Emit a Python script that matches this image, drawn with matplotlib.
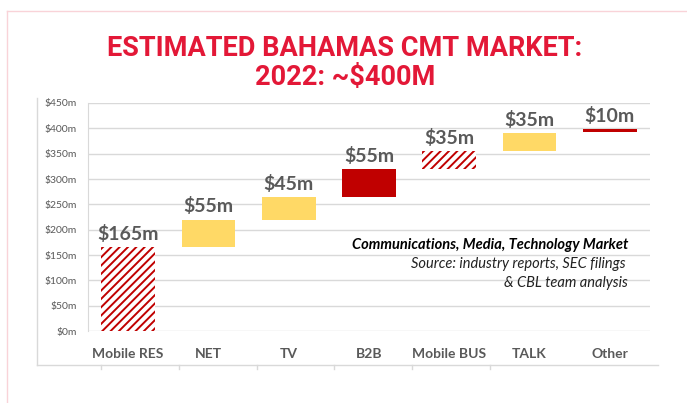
import matplotlib.pyplot as plt
from matplotlib.lines import Line2D

# waterfall data, $m
categories = ['Mobile RES', 'NET', 'TV', 'B2B', 'Mobile BUS', 'TALK', 'Other']
bottoms = [0, 165, 220, 265, 320, 355, 392]
heights = [165, 55, 45, 55, 35, 35, 6]
value_labels = ['$165m', '$55m', '$45m', '$55m', '$35m', '$35m', '$10m']
styles = ['hatch', 'yellow', 'yellow', 'red', 'hatch', 'yellow', 'red']
yticks = list(range(0, 451, 50))

RED = '#C00000'
YELLOW = '#FFD966'
GRAY = '#595959'
GRID = '#D9D9D9'

plt.rcParams['hatch.linewidth'] = 1.4

fig = plt.figure(figsize=(6.87, 4.03), dpi=100)
ax = fig.add_axes([88 / 687, 1 - 331 / 403, 562 / 687, 228 / 403])

for i, (b, h, s) in enumerate(zip(bottoms, heights, styles)):
    if s == 'hatch':
        ax.bar(i, h, bottom=b, width=0.67, facecolor='white', edgecolor=RED,
               hatch='////', linewidth=0, zorder=3)
    else:
        ax.bar(i, h, bottom=b, width=0.67, color=YELLOW if s == 'yellow' else RED,
               linewidth=0, zorder=3)
    ax.annotate(value_labels[i], (i, b + h), xytext=(0, 3), textcoords='offset points',
                ha='center', va='bottom', fontsize=14, fontweight='bold',
                color=GRAY, family='Lato')

ax.set_xlim(-0.5, 6.5)
ax.set_ylim(0, 450)
ax.set_yticks(yticks)
ax.set_yticklabels([f'${v}m' for v in yticks], fontsize=7.5, color=GRAY, family='Lato')
ax.set_xticks(range(len(categories)))
ax.set_xticklabels(categories, fontsize=10, fontweight='bold', color=GRAY, family='Lato')
ax.tick_params(axis='both', length=0)
ax.tick_params(axis='y', pad=8)
ax.tick_params(axis='x', pad=12)
ax.yaxis.grid(True, color=GRID, linewidth=1)
ax.set_axisbelow(True)
for side in ['top', 'right', 'bottom']:
    ax.spines[side].set_visible(False)
ax.spines['left'].set_color(GRID)

# outer frame of the chart image
fig.add_artist(Line2D([37 / 687, 37 / 687], [1 - 98 / 403, 1 - 365 / 403], color=GRID, lw=1))
fig.add_artist(Line2D([37 / 687, 658 / 687], [1 - 365 / 403, 1 - 365 / 403], color=GRID, lw=1))
for px in [101, 179, 257, 334, 412, 490]:
    fig.add_artist(Line2D([px / 687, px / 687], [1 - 365 / 403, 1 - 369 / 403], color=GRID, lw=1))

# pink page border
PINK = '#F9D3D8'
fig.add_artist(Line2D([7 / 687, 1], [1 - 11 / 403, 1 - 11 / 403], color=PINK, lw=1))
fig.add_artist(Line2D([7 / 687, 7 / 687], [1 - 11 / 403, 0], color=PINK, lw=1))

fig.text(0.502, 1 - 48 / 403, 'ESTIMATED BAHAMAS CMT MARKET:', ha='center', va='center',
         fontsize=19.5, fontweight='bold', color='#E31837', family='Roboto')
fig.text(0.502, 1 - 78 / 403, '2022: ~$400M', ha='center', va='center',
         fontsize=19.5, fontweight='bold', color='#E31837', family='Roboto')

fig.text(628 / 687, 1 - 245 / 403, 'Communications, Media, Technology Market', ha='right',
         va='center', fontsize=10.5, fontweight='bold', style='italic', color='black', family='Lato')
fig.text(626 / 687, 1 - 264 / 403, 'Source: industry reports, SEC filings', ha='right',
         va='center', fontsize=10.5, style='italic', color='#222222', family='Lato')
fig.text(628 / 687, 1 - 283 / 403, '& CBL team analysis', ha='right',
         va='center', fontsize=10.5, style='italic', color='#222222', family='Lato')

fig.savefig('out.png', dpi=100)
